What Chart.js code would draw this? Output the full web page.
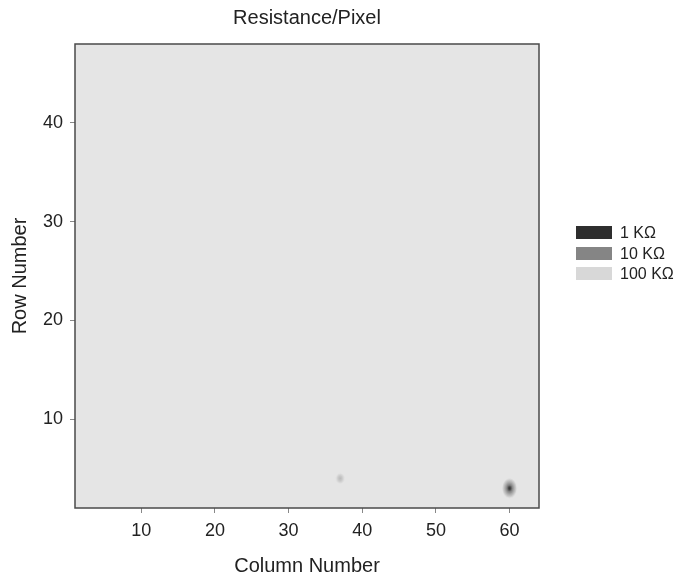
<!DOCTYPE html>
<html>
<head>
<meta charset="utf-8">
<title>Resistance/Pixel</title>
<script src="https://cdn.jsdelivr.net/npm/chart.js@4.4.1/dist/chart.umd.min.js"></script>
<style>
  html, body { margin: 0; padding: 0; background: #fff; }
  #wrap { position: relative; width: 675px; height: 577px; }
  #legend { position: absolute; left: 576px; top: 226px; font: 16px 'Liberation Sans', Arial, sans-serif; color: #222; }
  .item { position: relative; height: 20.5px; }
  .swatch { position: absolute; left: 0; top: 0; width: 36px; height: 13px; }
  .label { position: absolute; left: 44px; top: -2px; line-height: 17px; white-space: nowrap; }
</style>
</head>
<body>
<div id="wrap">
  <canvas id="chart" width="675" height="577"></canvas>
  <div id="legend"></div>
</div>
<script>
// contour levels (legend)
const levels = ['1 KΩ', '10 KΩ', '100 KΩ'];
const levelValues = [1, 10, 100];
const levelColors = ['#2e2e2e', '#858585', '#d8d8d8'];

// pixels that differ from the background, with the lowest resistance reached (KΩ)
const pixelCols = [60, 37];
const pixelRows = [3, 4];
const pixelRes = [1, 100];

// axis ticks
const xTicks = [10, 20, 30, 40, 50, 60];
const yTicks = [10, 20, 30, 40];

// soft elliptical spot used as point style
function makeBlob(rx, ry, rgb, mid) {
  const c = document.createElement('canvas');
  c.width = Math.ceil(rx * 2) + 2;
  c.height = Math.ceil(ry * 2) + 2;
  const g = c.getContext('2d');
  g.translate(c.width / 2, c.height / 2);
  g.scale(1, ry / rx);
  const grad = g.createRadialGradient(0, 0, 0, 0, 0, rx);
  grad.addColorStop(0, 'rgba(' + rgb + ',1)');
  grad.addColorStop(0.4, 'rgba(' + rgb + ',' + mid + ')');
  grad.addColorStop(1, 'rgba(' + rgb + ',0)');
  g.fillStyle = grad;
  g.beginPath();
  g.arc(0, 0, rx, 0, Math.PI * 2);
  g.fill();
  return c;
}
const blobs = [
  makeBlob(2.6, 3.4, '45,45,45', 0.7),
  makeBlob(7.5, 10, '115,115,115', 0.75),
  makeBlob(4.5, 5.5, '185,185,185', 0.7)
];

const datasets = levels.map((name, i) => ({
  label: name,
  data: pixelCols
    .map((c, k) => ({ x: c, y: pixelRows[k], r: pixelRes[k] }))
    .filter(p => p.r <= levelValues[i]),
  pointStyle: blobs[i],
  backgroundColor: levelColors[i],
  borderWidth: 0
}));

// legend
const legendEl = document.getElementById('legend');
legendEl.innerHTML = levels.map((l, i) =>
  `<div class="item"><div class="swatch" style="background:${levelColors[i]}"></div><div class="label">${l}</div></div>`
).join('');

const plotFrame = {
  id: 'plotFrame',
  beforeDraw(chart) {
    const { ctx, chartArea: a } = chart;
    ctx.save();
    ctx.fillStyle = '#e5e5e5';
    ctx.fillRect(a.left, a.top, a.right - a.left, a.bottom - a.top);
    ctx.restore();
  },
  afterDraw(chart) {
    const { ctx, chartArea: a } = chart;
    ctx.save();
    ctx.strokeStyle = '#4a4a4a';
    ctx.lineWidth = 1.5;
    ctx.strokeRect(a.left, a.top, a.right - a.left, a.bottom - a.top);
    ctx.restore();
  }
};

const font = "'Liberation Sans', Arial, sans-serif";

new Chart(document.getElementById('chart'), {
  type: 'scatter',
  data: { datasets },
  plugins: [plotFrame],
  options: {
    responsive: false,
    animation: false,
    layout: { padding: { top: 0, left: 0, right: 136, bottom: 0 } },
    plugins: {
      legend: { display: false },
      tooltip: { enabled: false },
      title: {
        display: true,
        text: 'Resistance/Pixel',
        fullSize: false,
        color: '#222',
        font: { family: font, size: 20, weight: 'normal', lineHeight: 1.2 },
        padding: { top: 6, bottom: 14 }
      }
    },
    scales: {
      x: {
        type: 'linear',
        min: 1,
        max: 64,
        afterBuildTicks: s => { s.ticks = xTicks.map(v => ({ value: v })); },
        afterFit: s => { s.height = 69; },
        border: { display: false },
        grid: { drawOnChartArea: false, drawTicks: true, tickLength: 5, tickColor: '#888' },
        ticks: { color: '#222', padding: 7, font: { family: font, size: 18 } },
        title: {
          display: true, text: 'Column Number', color: '#222',
          font: { family: font, size: 20, lineHeight: 1 },
          padding: { top: 0, bottom: 1 }
        }
      },
      y: {
        type: 'linear',
        min: 1,
        max: 48,
        afterBuildTicks: s => { s.ticks = yTicks.map(v => ({ value: v })); },
        afterFit: s => { s.width = 75; },
        border: { display: false },
        grid: { drawOnChartArea: false, drawTicks: true, tickLength: 5, tickColor: '#888' },
        ticks: { color: '#222', padding: 7, font: { family: font, size: 18 } },
        title: {
          display: true, text: 'Row Number', color: '#222',
          font: { family: font, size: 20, lineHeight: 1 },
          padding: { top: 10, bottom: 0 }
        }
      }
    }
  }
});
</script>
</body>
</html>
